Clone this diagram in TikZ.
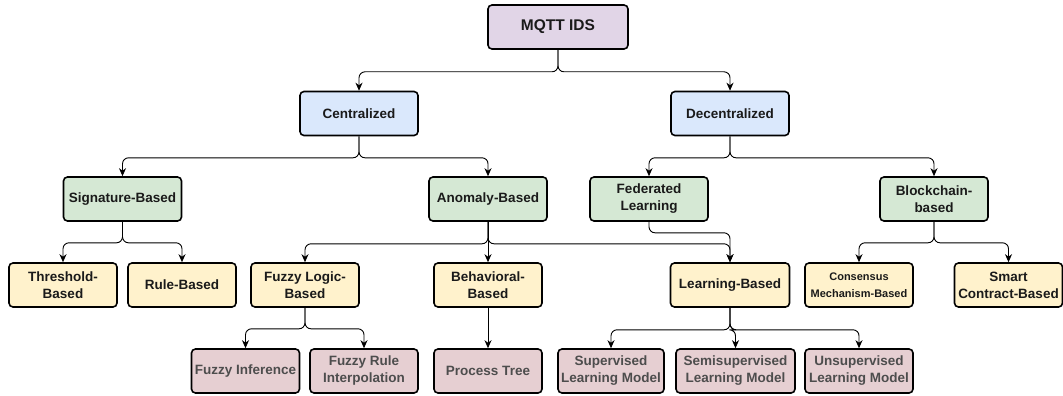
\documentclass[tikz,border=0pt]{standalone}
\usepackage{fontspec}
\setmainfont{Liberation Sans}
\usetikzlibrary{arrows.meta}

\definecolor{rootfill}{HTML}{E1D5E7}
\definecolor{tierfill}{HTML}{DAE8FC}
\definecolor{famfill}{HTML}{D5E8D4}
\definecolor{methfill}{HTML}{FFF2CC}
\definecolor{techfill}{HTML}{E6CFD2}
\definecolor{techtext}{HTML}{4D4D4D}
\definecolor{boxtext}{HTML}{1A1A1A}

\tikzset{
  box/.style={draw=black, line width=1.6pt, rounded corners=4pt,
    minimum height=44pt, inner sep=1pt, align=center, text=boxtext,
    font=\fontsize{13.5}{17}\selectfont\bfseries},
  rootbox/.style={box, fill=rootfill, minimum width=140pt,
    font=\fontsize{15.5}{18}\selectfont\bfseries},
  tierbox/.style={box, fill=tierfill, minimum width=118pt},
  fambox/.style={box, fill=famfill, minimum width=118pt},
  methbox/.style={box, fill=methfill, minimum width=108pt},
  techbox/.style={box, fill=techfill, minimum width=108pt, text=techtext},
  conn/.style={draw=black, line width=0.9pt, rounded corners=6pt,
    -{Stealth[length=8pt,width=7pt,inset=2.5pt]}}
}

\begin{document}
\begin{tikzpicture}[x=1pt,y=-1pt]
\useasboundingbox (0,0) rectangle (1063,396);

% root and tiers
\node[rootbox] (ids) at (558,27) {MQTT IDS};
\node[tierbox] (cen) at (359,113.5) {Centralized};
\node[tierbox] (dec) at (730,113.5) {Decentralized};

% families
\node[fambox] (sig) at (122.5,199) {Signature-Based};
\node[fambox] (ano) at (488,199) {Anomaly-Based};
\node[fambox] (fed) at (649,199) {Federated\\Learning};
\node[fambox, minimum width=108pt] (blk) at (934,199) {Blockchain-\\based};

% methods
\node[methbox] (thr) at (63,285) {Threshold-\\Based};
\node[methbox] (rul) at (182,285) {Rule-Based};
\node[methbox] (fuz) at (305,285) {Fuzzy Logic-\\Based};
\node[methbox] (beh) at (488,285) {Behavioral-\\Based};
\node[methbox, minimum width=119pt] (lrn) at (730,285) {Learning-Based};
\node[methbox, font=\fontsize{11}{17}\selectfont\bfseries] (con) at (859,285) {Consensus\\Mechanism-Based};
\node[methbox] (smt) at (1008.5,285) {Smart\\Contract-Based};

% techniques
\node[techbox] (finf) at (245.5,371) {Fuzzy Inference};
\node[techbox] (frule) at (364,371) {Fuzzy Rule\\Interpolation};
\node[techbox] (ptree) at (488,371) {Process Tree};
\node[techbox, minimum width=106pt] (sup) at (611,371) {Supervised\\Learning Model};
\node[techbox, minimum width=119pt] (semi) at (735.5,371) {Semisupervised\\Learning Model};
\node[techbox] (uns) at (859,371) {Unsupervised\\Learning Model};

% connectors
\draw[conn] (ids.south) -- ++(0,22) -| (cen.north);
\draw[conn] (ids.south) -- ++(0,22) -| (dec.north);
\draw[conn] (cen.south) -- ++(0,21.5) -| (sig.north);
\draw[conn] (cen.south) -- ++(0,21.5) -| (ano.north);
\draw[conn] (dec.south) -- ++(0,21.5) -| (fed.north);
\draw[conn] (dec.south) -- ++(0,21.5) -| (blk.north);
\draw[conn] (sig.south) -- ++(0,21) -| (thr.north);
\draw[conn] (sig.south) -- ++(0,21) -| (rul.north);
\draw[conn] (ano.south) -- ++(0,22) -| (fuz.north);
\draw[conn] (ano.south) -- (beh.north);
\draw[conn] (ano.south) -- ++(0,22) -| (lrn.north);
\draw[conn] (fed.south) -- ++(0,11) -| (lrn.north);
\draw[conn] (blk.south) -- ++(0,21) -| (con.north);
\draw[conn] (blk.south) -- ++(0,21) -| (smt.north);
\draw[conn] (fuz.south) -- ++(0,21) -| (finf.north);
\draw[conn] (fuz.south) -- ++(0,21) -| (frule.north);
\draw[conn] (beh.south) -- (ptree.north);
\draw[conn] (lrn.south) -- ++(0,22) -| (sup.north);
\draw[conn] (lrn.south) -- ++(0,22) -| (semi.north);
\draw[conn] (lrn.south) -- ++(0,22) -| (uns.north);
\end{tikzpicture}
\end{document}
